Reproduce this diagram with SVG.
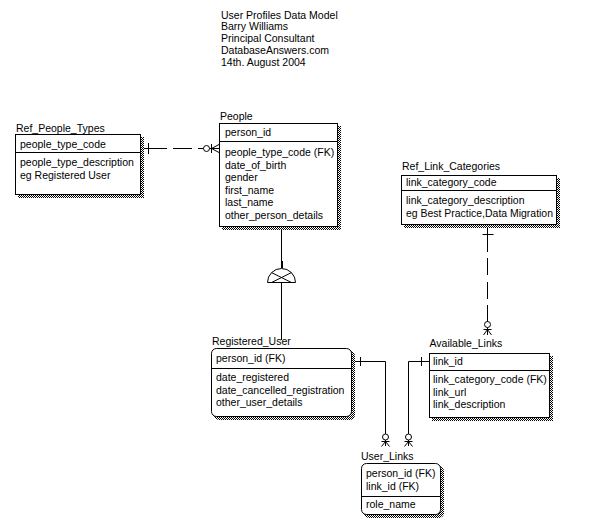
<svg xmlns="http://www.w3.org/2000/svg" width="592" height="532" viewBox="0 0 592 532">
<style>
text{font-family:"Liberation Sans",Arial,sans-serif;font-size:10.5px;fill:#000}
.box{fill:#fff;stroke:#000;stroke-width:1}
.sh{fill:url(#hatch)}
.ln{stroke:#000;stroke-width:1;fill:none}
</style>
<defs>
<pattern id="hatch" width="2" height="2" patternUnits="userSpaceOnUse">
<rect width="2" height="2" fill="#fff"/>
<rect x="0" y="0" width="1" height="1" fill="#000"/>
<rect x="1" y="1" width="1" height="1" fill="#000"/>
</pattern>
</defs>
<rect width="592" height="532" fill="#fff"/>

<g id="header">
<text x="221" y="18.5">User Profiles Data Model</text>
<text x="221" y="30.3">Barry Williams</text>
<text x="221" y="42">Principal Consultant</text>
<text x="221" y="53.8">DatabaseAnswers.com</text>
<text x="221" y="65.5">14th. August 2004</text>
</g>

<g id="connectors">
<!-- Ref_People_Types to People -->
<path class="ln" d="M144 148.5H167M173 148.5H192M198 148.5H203.5M209.5 148.5H219"/>
<path class="ln" d="M148.5 143V154"/>
<circle class="ln" cx="206.5" cy="148.5" r="3"/>
<path class="ln" d="M211.5 144V153M211.5 148.5L219 144.5M211.5 148.5L219 152.5"/>
<!-- People to Registered_User (subtype) -->
<path class="ln" d="M281.5 227V268"/>
<rect x="281" y="261" width="2" height="7" fill="#000"/>
<path class="ln" d="M267.5 282.5A14 14 0 0 1 295.5 282.5Z"/>
<path class="ln" d="M271.6 272.6L291.4 282.5M291.4 272.6L271.6 282.5"/>
<path class="ln" d="M281.5 282.5V340"/>
<!-- Registered_User to User_Links -->
<path class="ln" d="M355 361.5H385.5V434M385.5 440V446"/>
<path class="ln" d="M360.5 357V366"/>
<circle class="ln" cx="385.5" cy="437" r="3"/>
<path class="ln" d="M381.5 441.5H389.5M385.5 441.5L381.5 446.5M385.5 441.5L389.5 446.5"/>
<!-- Available_Links to User_Links -->
<path class="ln" d="M429 361.5H408.5V434M408.5 440V446"/>
<path class="ln" d="M421.5 357V366"/>
<circle class="ln" cx="408.5" cy="437" r="3"/>
<path class="ln" d="M404.5 441.5H412.5M408.5 441.5L404.5 446.5M408.5 441.5L412.5 446.5"/>
<!-- Ref_Link_Categories to Available_Links -->
<path class="ln" d="M487.5 228V252M487.5 258V275M487.5 282V299M487.5 305V321.5M487.5 327.5V335"/>
<path class="ln" d="M482.5 234.5H493.5"/>
<circle class="ln" cx="487.5" cy="324.5" r="3"/>
<path class="ln" d="M483.5 329.5H491.5M487.5 329.5L483.5 335M487.5 329.5L491.5 335"/>
</g>

<g id="Ref_People_Types">
<rect class="sh" x="18" y="137" width="126" height="61"/>
<rect class="box" x="15.5" y="134.5" width="125" height="60"/>
<path class="ln" d="M15.5 152.5H140.5"/>
<text x="16" y="132">Ref_People_Types</text>
<text x="20" y="147.5">people_type_code</text>
<text x="20" y="166">people_type_description</text>
<text x="20" y="178.5">eg Registered User</text>
</g>

<g id="People">
<rect class="sh" x="222" y="126" width="119" height="104"/>
<rect class="box" x="219.5" y="123.5" width="118" height="103"/>
<path class="ln" d="M219.5 141.5H337.5"/>
<text x="220" y="120">People</text>
<text x="225" y="135.5">person_id</text>
<text x="225" y="156">people_type_code (FK)</text>
<text x="225" y="168.5">date_of_birth</text>
<text x="225" y="181">gender</text>
<text x="225" y="193.5">first_name</text>
<text x="225" y="206">last_name</text>
<text x="225" y="218.5">other_person_details</text>
</g>

<g id="Ref_Link_Categories">
<rect class="sh" x="404" y="178" width="156" height="50"/>
<rect class="box" x="401.5" y="175.5" width="155" height="49"/>
<path class="ln" d="M401.5 190.5H556.5"/>
<text x="402" y="170">Ref_Link_Categories</text>
<text x="406" y="186">link_category_code</text>
<text x="406" y="204">link_category_description</text>
<text x="406" y="217" textLength="147" lengthAdjust="spacingAndGlyphs">eg Best Practice,Data Migration</text>
</g>

<g id="Registered_User">
<rect class="sh" x="214" y="351" width="141" height="69" rx="5"/>
<rect class="box" x="211.5" y="348.5" width="140" height="68" rx="5"/>
<path class="ln" d="M211.5 368.5H351.5"/>
<text x="212" y="345">Registered_User</text>
<text x="216" y="361.5">person_id (FK)</text>
<text x="216" y="381">date_registered</text>
<text x="216" y="393.5">date_cancelled_registration</text>
<text x="216" y="406">other_user_details</text>
</g>

<g id="Available_Links">
<rect class="sh" x="432" y="356" width="121" height="65"/>
<rect class="box" x="429.5" y="353.5" width="120" height="64"/>
<path class="ln" d="M429.5 370.5H549.5"/>
<text x="429.5" y="346.5">Available_Links</text>
<text x="433" y="364.5">link_id</text>
<text x="433" y="383">link_category_code (FK)</text>
<text x="433" y="395.5">link_url</text>
<text x="433" y="408">link_description</text>
</g>

<g id="User_Links">
<rect class="sh" x="364" y="466" width="80" height="52" rx="5"/>
<rect class="box" x="361.5" y="463.5" width="79" height="51" rx="5"/>
<path class="ln" d="M361.5 496.5H440.5"/>
<text x="361" y="459.5">User_Links</text>
<text x="366" y="476.5">person_id (FK)</text>
<text x="366" y="489.5">link_id (FK)</text>
<text x="366" y="507.5">role_name</text>
</g>
</svg>
